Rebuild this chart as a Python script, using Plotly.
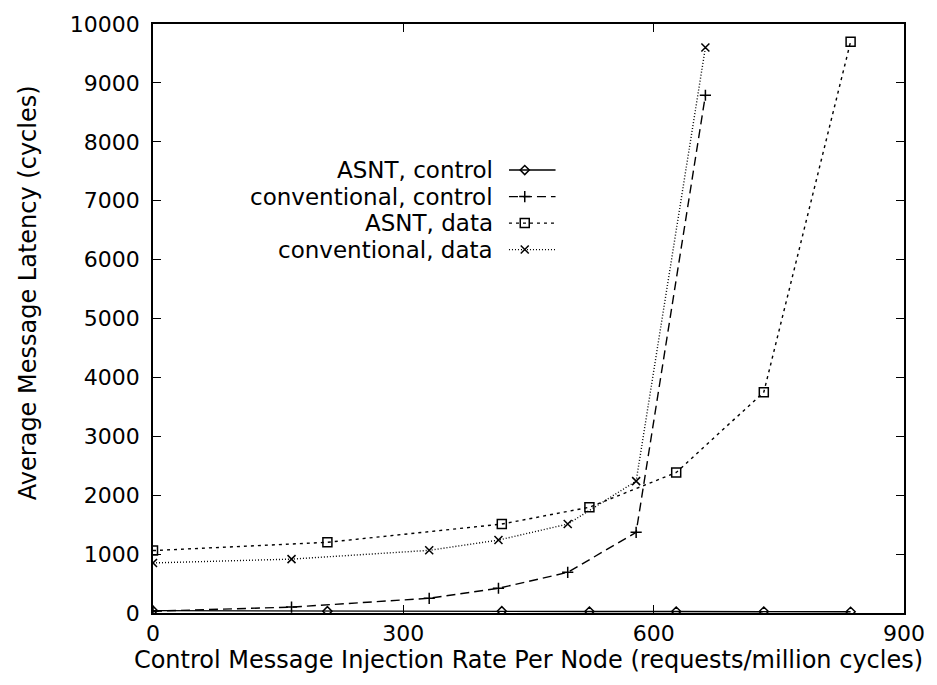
import plotly.graph_objects as go

# Data
asnt_x = [0, 209, 418, 523, 627, 732, 836]
conv_x = [0, 166, 331, 414, 497, 579, 662]

asnt_control = [40, 30, 30, 25, 25, 25, 20]
conv_control = [30, 100, 250, 420, 690, 1370, 8790]
asnt_data = [1060, 1200, 1510, 1796, 2385, 3750, 9700]
conv_data = [850, 915, 1064, 1238, 1510, 2239, 9600]

names = ["ASNT, control", "conventional, control", "ASNT, data", "conventional, data"]
xs = [asnt_x, conv_x, asnt_x, conv_x]
ys = [asnt_control, conv_control, asnt_data, conv_data]
dashes = ["solid", "9px,5px", "3px,4px", "1px,2px"]
symbols = ["diamond-open", "cross-thin-open", "square-open", "x-thin-open"]
msizes = [7, 8, 9, 8]

x_ticks = [0, 300, 600, 900]
y_ticks = list(range(0, 10001, 1000))

FONT = "DejaVu Sans, Liberation Sans, Arial, sans-serif"

fig = go.Figure()
for n, x, y, d, s, ms in zip(names, xs, ys, dashes, symbols, msizes):
    fig.add_trace(go.Scatter(
        x=x, y=y, mode="lines+markers", name=n, showlegend=False,
        line=dict(color="black", width=1.4, dash=d),
        marker=dict(symbol=s, size=ms, color="black", line=dict(color="black", width=1.5)),
    ))

# gnuplot-style key: text on the left, sample on the right
key_y = [0.752, 0.707, 0.662, 0.617]
for n, ky, d, s, ms in zip(names, key_y, dashes, symbols, msizes):
    fig.add_trace(go.Scatter(
        x=[0.474, 0.536], y=[ky, ky], mode="lines", xaxis="x2", yaxis="y2",
        showlegend=False, hoverinfo="skip",
        line=dict(color="black", width=1.4, dash=d),
    ))
    fig.add_trace(go.Scatter(
        x=[0.495], y=[ky], mode="markers", xaxis="x2", yaxis="y2",
        showlegend=False, hoverinfo="skip",
        marker=dict(symbol=s, size=ms, color="black", line=dict(color="black", width=1.5)),
    ))
    fig.add_annotation(
        x=0.455, y=ky, xref="paper", yref="paper", text=n, showarrow=False,
        xanchor="right", yanchor="middle", font=dict(family=FONT, size=23, color="black"),
    )

# y-axis title (placed as in the reference, slightly above centre)
fig.add_annotation(
    x=-0.167, y=0.544, xref="paper", yref="paper", text="Average Message Latency (cycles)",
    showarrow=False, textangle=-90, xanchor="center", yanchor="middle",
    font=dict(family=FONT, size=24, color="black"),
)

fig.update_layout(
    width=937, height=685,
    margin=dict(l=153, r=24, t=21, b=72),
    paper_bgcolor="white", plot_bgcolor="white",
    font=dict(family=FONT, size=22, color="black"),
    xaxis=dict(
        range=[0, 900], tickvals=x_ticks, ticktext=[str(v) for v in x_ticks],
        ticks="inside", ticklen=8, tickwidth=1.2, tickcolor="black",
        showline=True, linecolor="black", linewidth=1.5, mirror="allticks",
        showgrid=False, zeroline=False,
        title=dict(text="Control Message Injection Rate Per Node (requests/million cycles)",
                   font=dict(size=24), standoff=0),
    ),
    yaxis=dict(
        range=[0, 10000], tickvals=y_ticks, ticktext=[str(v) for v in y_ticks],
        ticks="inside", ticklen=8, tickwidth=1.2, tickcolor="black",
        ticklabelstandoff=7,
        showline=True, linecolor="black", linewidth=1.5, mirror="allticks",
        showgrid=False, zeroline=False,
    ),
    xaxis2=dict(range=[0, 1], overlaying="x", visible=False, fixedrange=True),
    yaxis2=dict(range=[0, 1], overlaying="y", visible=False, fixedrange=True),
)

fig.write_html("out.html")
